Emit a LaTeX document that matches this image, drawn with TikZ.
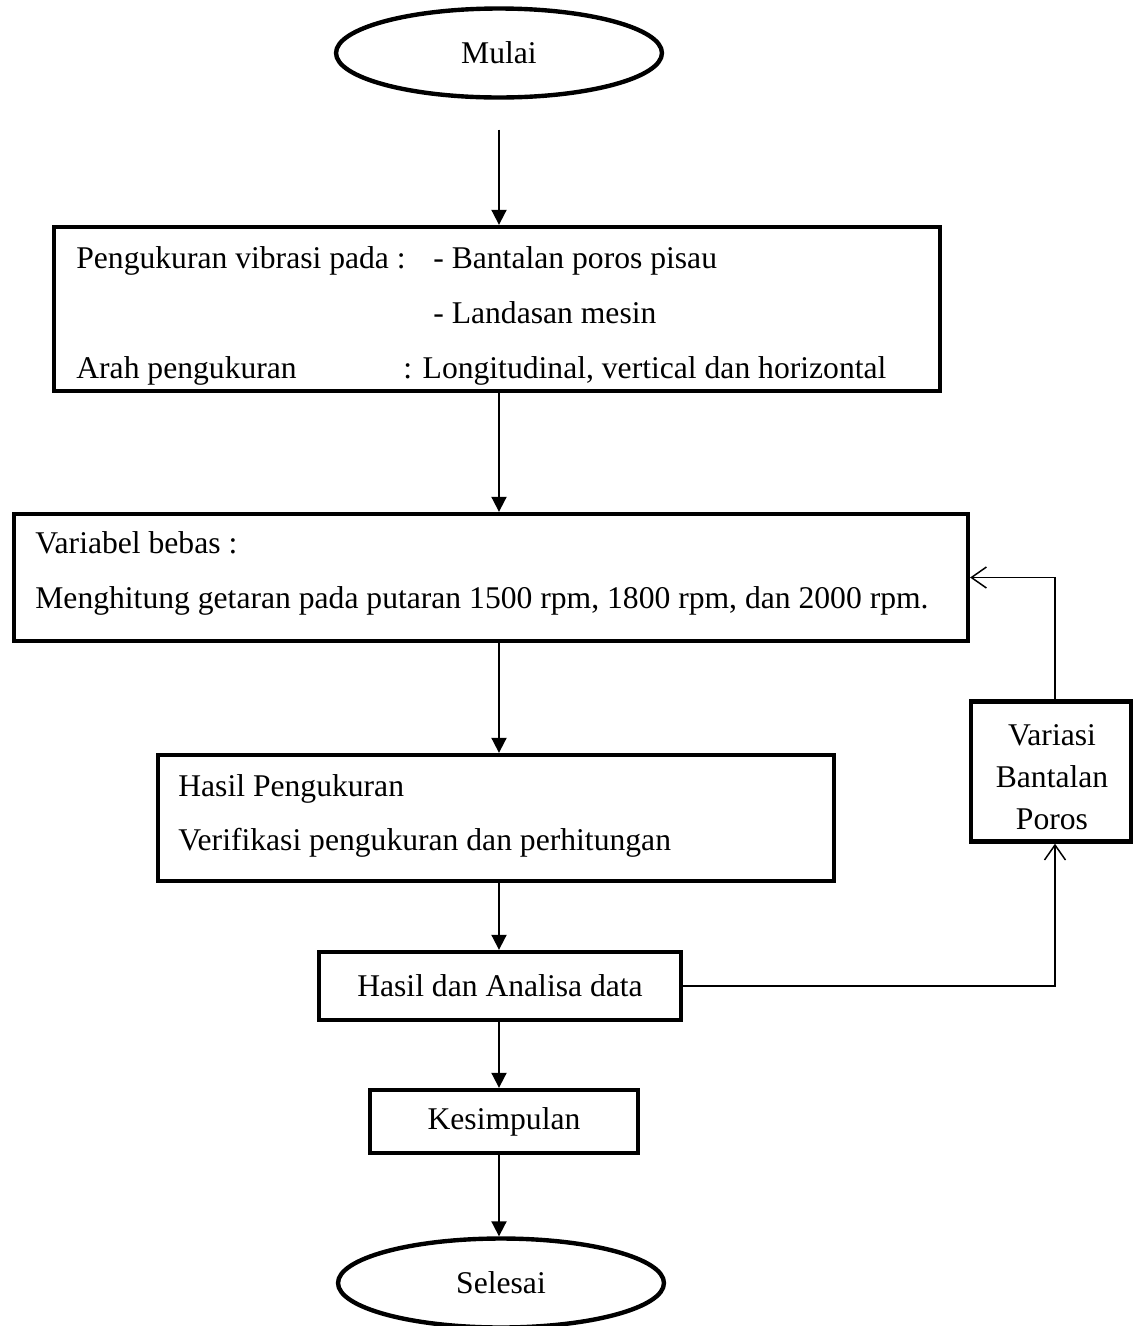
\documentclass[tikz,border=0pt]{standalone}
\usepackage{fontspec}
\setmainfont{Liberation Serif}
\usetikzlibrary{arrows.meta, shapes.geometric, calc}

\tikzset{
  flowbox/.style={draw, line width=2.5pt, rectangle, inner sep=0pt, font=\fontsize{18}{21}\selectfont},
  flowend/.style={draw, line width=2.5pt, ellipse, inner sep=0pt, minimum width=6.52cm, minimum height=1.78cm, font=\fontsize{18}{21}\selectfont},
  flowtext/.style={anchor=base west, inner sep=0pt, font=\fontsize{18}{21}\selectfont},
  flowarrow/.style={-{Triangle[length=0.3cm,width=0.3cm]}, line width=1.1pt},
  looparrow/.style={-{Straight Barb[length=0.3cm,width=0.42cm]}, line width=0.85pt}
}

\begin{document}
\begin{tikzpicture}[x=0.02cm, y=-0.02cm]
  \useasboundingbox (0,0) rectangle (1141,1326);
  % Start / end
  \node[flowend] (mulai) at (499,53) {Mulai};
  \node[flowend] (selesai) at (501,1283) {Selesai};
  % Process boxes
  \node[flowbox, minimum width=17.72cm, minimum height=3.28cm] (ukur) at (497,309) {};
  \node[flowbox, minimum width=19.08cm, minimum height=2.54cm] (var) at (491,577.5) {};
  \node[flowbox, minimum width=13.52cm, minimum height=2.52cm] (hasil) at (496,818) {};
  \node[flowbox, minimum width=7.24cm, minimum height=1.36cm] (analisa) at (500,986) {Hasil dan Analisa data};
  \node[flowbox, minimum width=5.36cm, minimum height=1.26cm] (simpul) at (504,1121.5) {Kesimpulan};
  \node[flowbox, minimum width=3.2cm, minimum height=2.8cm] (variasi) at (1051,771.5) {};
  % Box texts
  \node[flowtext] (ukurA) at (76,268) {Pengukuran vibrasi pada :};
  \node[flowtext] (ukurB) at (433,268) {- Bantalan poros pisau};
  \node[flowtext] (ukurC) at (433,323) {- Landasan mesin};
  \node[flowtext] (ukurD) at (76,378) {Arah pengukuran};
  \node[flowtext] (ukurE) at (403,378) {: Longitudinal, vertical dan horizontal};
  \node[flowtext] (varA) at (35,553) {Variabel bebas :};
  \node[flowtext] (varB) at (35,608) {Menghitung getaran pada putaran 1500 rpm, 1800 rpm, dan 2000 rpm.};
  \node[flowtext] (hasilA) at (178,796) {Hasil Pengukuran};
  \node[flowtext] (hasilB) at (178,850) {Verifikasi pengukuran dan perhitungan};
  \node[inner sep=0pt, align=center, font=\fontsize{18}{23.8}\selectfont] (variasiT) at (1052,777) {Variasi\\Bantalan\\Poros};
  % Main flow
  \coordinate (spine) at (499,0);
  \draw[flowarrow, shorten <=0.6cm] (mulai.south) -- (spine |- ukur.north);
  \draw[flowarrow] (spine |- ukur.south) -- (spine |- var.north);
  \draw[flowarrow] (spine |- var.south) -- (spine |- hasil.north);
  \draw[flowarrow] (spine |- hasil.south) -- (spine |- analisa.north);
  \draw[flowarrow] (spine |- analisa.south) -- (spine |- simpul.north);
  \draw[flowarrow] (spine |- simpul.south) -- (spine |- selesai.north);
  % Feedback loop
  \coordinate (loopx) at (1055,0);
  \draw[looparrow] (analisa.east) -| (loopx |- variasi.south);
  \draw[looparrow] (loopx |- variasi.north) |- (var.east);
\end{tikzpicture}
\end{document}
